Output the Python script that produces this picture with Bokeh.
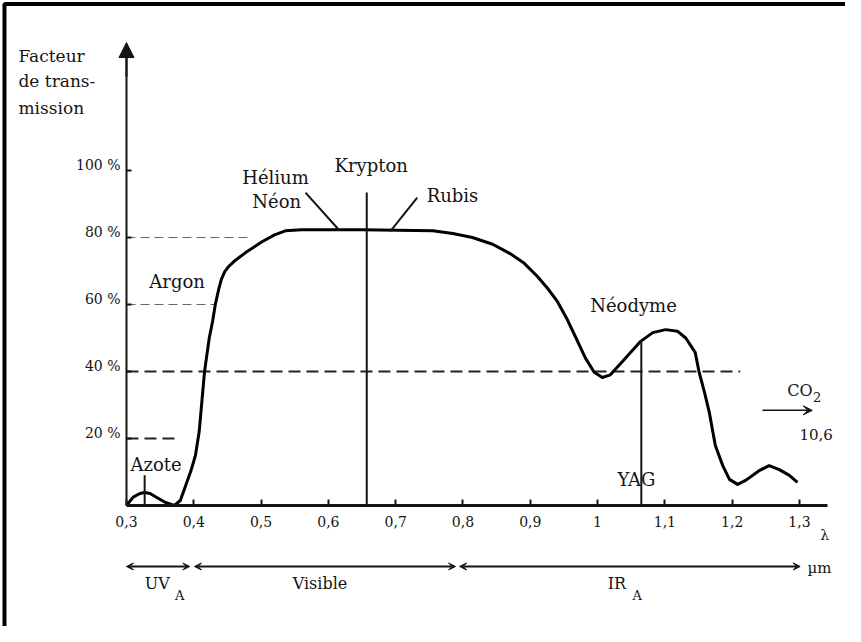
from bokeh.plotting import figure
from bokeh.models import Range1d, LinearAxis, FixedTicker, Arrow, VeeHead, NormalHead
from bokeh.core.properties import value
from bokeh.embed import file_html
from bokeh.resources import INLINE

# ---- data -------------------------------------------------------------
wavelength = [0.300, 0.310, 0.320, 0.327, 0.335, 0.345, 0.358, 0.371, 0.380, 0.388,
              0.396, 0.4025, 0.408, 0.416, 0.423, 0.428, 0.432, 0.437, 0.441, 0.446,
              0.452, 0.460, 0.477, 0.502, 0.520, 0.536, 0.560, 0.650, 0.755, 0.785,
              0.814, 0.844, 0.870, 0.890, 0.910, 0.925, 0.940, 0.955, 0.968, 0.982,
              0.995, 1.007, 1.019, 1.037, 1.064, 1.082, 1.101, 1.119, 1.131, 1.145,
              1.151, 1.159, 1.166, 1.175, 1.186, 1.196, 1.208, 1.220, 1.240, 1.255,
              1.270, 1.285, 1.297]
transmission = [0, 2.5, 3.6, 3.9, 3.6, 2.4, 0.9, 0, 1.5, 6,
                 10.5, 15, 22, 40, 50, 55, 60, 64.5, 67.5, 69.8,
                 71.4, 72.9, 75.5, 78.8, 80.8, 82, 82.3, 82.3, 82, 81.2,
                 80, 78, 75.2, 72.5, 68.5, 65, 61, 55.5, 50, 44,
                 39.8, 38.2, 39, 43, 49, 51.6, 52.5, 52, 50, 45.7,
                 39.7, 33.7, 27.8, 17.9, 11.9, 7.8, 6.3, 7.5, 10.4, 11.9,
                 10.7, 9, 6.9]

x_ticks = [0.3, 0.4, 0.5, 0.6, 0.7, 0.8, 0.9, 1.0, 1.1, 1.2, 1.3]
x_tick_labels = ["0,3", "0,4", "0,5", "0,6", "0,7", "0,8", "0,9", "1", "1,1", "1,2", "1,3"]
y_ticks = [20, 40, 60, 80, 100]
y_tick_labels = ["20 %", "40 %", "60 %", "80 %", "100 %"]

guide_levels = [80, 60, 40, 20]
guide_ends = [0.485, 0.431, 1.212, 0.376]

# laser lines (wavelength, top in %)
laser_x = [0.327, 0.657, 1.065]
laser_top = [9.0, 93.4, 49.3]

# leader lines for labels
leader_x0 = [0.566, 0.732]
leader_y0 = [93.4, 91.9]
leader_x1 = [0.6165, 0.692]
leader_y1 = [82.1, 81.8]

gas_labels = ["Azote", "Argon", "Hélium", "Néon", "Krypton", "Rubis", "Néodyme", "YAG"]
gas_x = [0.306, 0.334, 0.472, 0.487, 0.609, 0.746, 0.989, 1.0296]
gas_y = [12.3, 67.0, 98.0, 90.6, 101.6, 92.6, 59.8, 7.9]

title_lines = ["Facteur", "de trans-", "mission"]
title_x = [0.1395, 0.1395, 0.1395]
title_y = [134.3, 126.6, 118.8]

band_starts = [0.300, 0.401, 0.795]
band_ends = [0.394, 0.789, 1.301]
band_names = ["UV", "Visible", "IR"]
band_name_x = [0.327, 0.547, 1.015]
band_sub = ["A", "A"]
band_sub_x = [0.372, 1.052]

# ---- figure -----------------------------------------------------------
X0, X1 = 0.1128, 1.3684
Y0, Y1 = -36.12, 150.75
FONT = value("DejaVu Serif")
INK = "#141414"

p = figure(width=845, height=626, x_range=Range1d(X0, X1), y_range=Range1d(Y0, Y1),
           output_backend="svg", toolbar_location=None, x_axis_type=None,
           y_axis_type=None, min_border=0)
p.outline_line_color = None
p.background_fill_color = "white"

# frame of the original figure (top and left thick rule)
p.line([0.1187, 0.1187, X1 + 0.01], [Y0 - 5, 149.7, 149.7], line_width=4, line_color="black")

xaxis = LinearAxis(fixed_location=0, ticker=FixedTicker(ticks=x_ticks),
                   major_label_overrides=dict(zip(x_ticks, x_tick_labels)),
                   bounds=(0.3, 1.342), axis_line_width=3, axis_line_color=INK,
                   major_tick_in=6, major_tick_out=0, major_tick_line_width=2,
                   major_tick_line_color=INK, minor_tick_line_color=None,
                   major_label_text_font="DejaVu Serif", major_label_text_font_size="14px",
                   major_label_text_color=INK, major_label_standoff=10)
p.add_layout(xaxis, "below")

yaxis = LinearAxis(fixed_location=0.3, ticker=FixedTicker(ticks=y_ticks),
                   major_label_overrides=dict(zip(y_ticks, y_tick_labels)),
                   bounds=(0, 135), axis_line_width=2, axis_line_color=INK,
                   major_tick_in=5, major_tick_out=0, major_tick_line_width=2,
                   major_tick_line_color=INK, minor_tick_line_color=None,
                   major_label_text_font_size="0px", major_label_text_color=None)
p.add_layout(yaxis, "left")

# y tick labels sit slightly above their ticks in the original
p.text(x=[0.2911] * len(y_ticks), y=[t + 1.5 for t in y_ticks], text=y_tick_labels,
       text_font=FONT, text_font_size="14px", text_color=INK,
       text_baseline="middle", text_align="right")

p.add_layout(Arrow(end=NormalHead(size=15, fill_color=INK, line_color=INK),
                   x_start=0.3, y_start=128, x_end=0.3, y_end=138.2,
                   line_width=2, line_color=INK))

# guide dashed lines
for lvl, end in zip(guide_levels, guide_ends):
    dark = lvl <= 40
    p.line([0.3, end], [lvl, lvl], line_dash="12 6" if dark else "9 5",
           line_width=1.8 if dark else 1.2,
           line_color="#222222" if dark else "#666666")

# transmission curve
p.line(wavelength, transmission, line_width=3, line_color="black", line_join="round")

# laser lines
p.segment(x0=laser_x, y0=[0] * len(laser_x), x1=laser_x, y1=laser_top,
          line_width=2, line_color=INK)
p.segment(x0=leader_x0, y0=leader_y0, x1=leader_x1, y1=leader_y1,
          line_width=2, line_color=INK)

# labels
p.text(x=gas_x, y=gas_y, text=gas_labels, text_font=FONT, text_font_size="18px",
       text_color=INK, text_baseline="middle", text_align="left")
p.text(x=title_x, y=title_y, text=title_lines, text_font=FONT, text_font_size="17px",
       text_color=INK, text_baseline="middle", text_align="left")

# CO2 note
p.text(x=[1.282], y=[34.3], text=["CO"], text_font=FONT, text_font_size="16px",
       text_color=INK, text_baseline="middle", text_align="left")
p.text(x=[1.320], y=[32.5], text=["2"], text_font=FONT, text_font_size="13px",
       text_color=INK, text_baseline="middle", text_align="left")
p.add_layout(Arrow(end=VeeHead(size=9, fill_color=INK, line_color=INK),
                   x_start=1.245, y_start=28.4, x_end=1.319, y_end=28.4,
                   line_width=1.5, line_color=INK))
p.text(x=[1.300], y=[21.1], text=["10,6"], text_font=FONT, text_font_size="15px",
       text_color=INK, text_baseline="middle", text_align="left")

# lambda and unit
p.text(x=[1.331], y=[-8.7], text=["λ"], text_font=FONT, text_font_size="14px",
       text_color=INK, text_baseline="middle", text_align="left")
p.text(x=[1.312], y=[-18.7], text=["µm"], text_font=FONT, text_font_size="15px",
       text_color=INK, text_baseline="middle", text_align="left")

# spectral bands
for s, e in zip(band_starts, band_ends):
    p.add_layout(Arrow(start=VeeHead(size=7, fill_color=INK, line_color=INK),
                       end=VeeHead(size=7, fill_color=INK, line_color=INK),
                       x_start=s, y_start=-18.2, x_end=e, y_end=-18.2,
                       line_width=2, line_color=INK))
p.text(x=band_name_x, y=[-23.3] * 3, text=band_names, text_font=FONT,
       text_font_size="16px", text_color=INK, text_baseline="middle", text_align="left")
p.text(x=band_sub_x, y=[-26.9] * len(band_sub_x), text=band_sub, text_font=FONT,
       text_font_size="13px", text_color=INK, text_baseline="middle", text_align="left")

open("out.html", "w").write(file_html(p, INLINE))
